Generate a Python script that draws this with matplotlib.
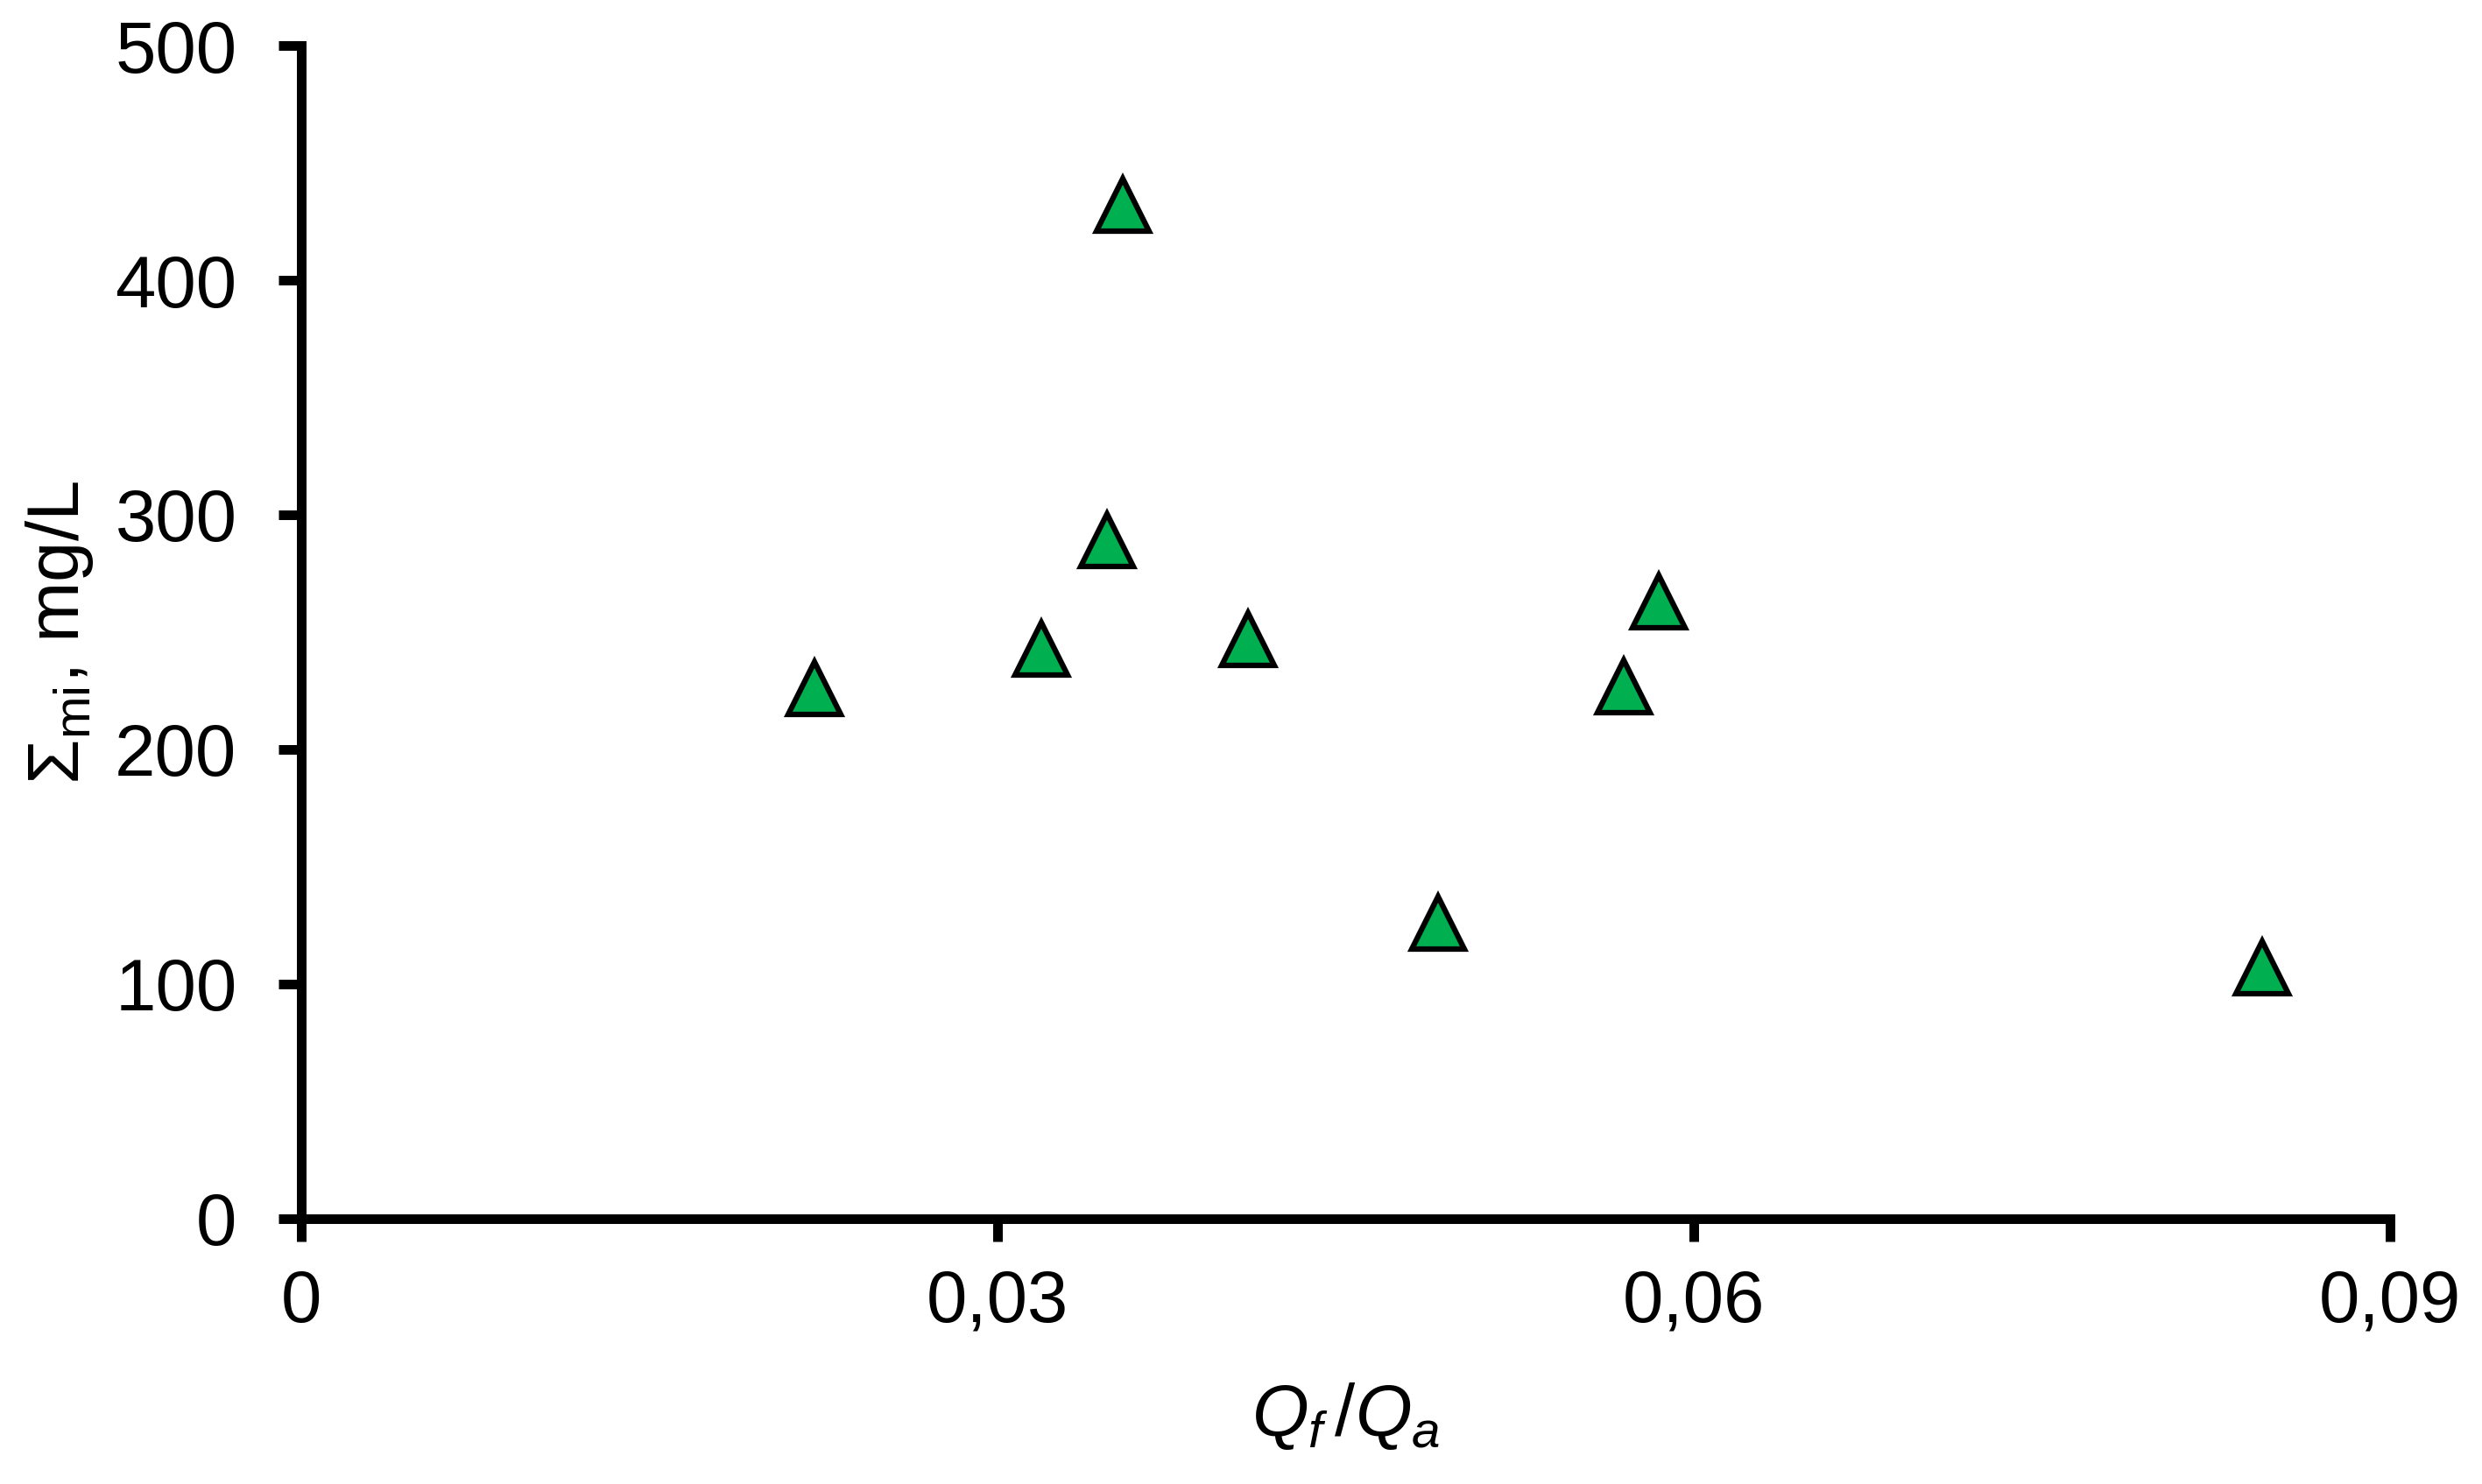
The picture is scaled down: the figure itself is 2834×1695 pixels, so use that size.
import matplotlib
matplotlib.use("Agg")
import matplotlib.pyplot as plt

# -----------------------------
# DATA
# -----------------------------
q_ratio = [0.0221, 0.0319, 0.0347, 0.0354, 0.0408, 0.0490, 0.0570, 0.0585, 0.0845]
sum_mi = [226, 243, 289, 432, 247, 126, 227, 263, 107]

x_ticks = [0, 0.03, 0.06, 0.09]
x_tick_labels = ["0", "0,03", "0,06", "0,09"]
y_ticks = [0, 100, 200, 300, 400, 500]

# -----------------------------
# STYLE
# -----------------------------
plt.rcParams["font.family"] = ["Liberation Sans", "DejaVu Sans"]
plt.rcParams["mathtext.fontset"] = "custom"
plt.rcParams["mathtext.rm"] = "Liberation Sans"
plt.rcParams["mathtext.it"] = "Liberation Sans:italic"

fig = plt.figure(figsize=(28.34, 16.95), dpi=100)
ax = fig.add_axes([0.1214, 0.1788, 0.8415, 0.7905])

ax.plot(q_ratio, sum_mi, linestyle="none", marker="^", markersize=43,
        markerfacecolor="#00B050", markeredgecolor="black", markeredgewidth=4.5)

ax.set_xlim(0, 0.09)
ax.set_ylim(0, 500)
ax.set_xticks(x_ticks)
ax.set_xticklabels(x_tick_labels)
ax.set_yticks(y_ticks)

for side in ["top", "right"]:
    ax.spines[side].set_visible(False)
for side in ["left", "bottom"]:
    ax.spines[side].set_linewidth(7.9)

ax.tick_params(axis="both", direction="out", length=19, width=7.9,
               labelsize=60, colors="black")
ax.tick_params(axis="x", pad=22)
ax.tick_params(axis="y", pad=34)

ax.set_xlabel(r"$Q_f\,/Q_a$", fontsize=60, va="baseline")
ax.xaxis.set_label_coords(0.5, -0.185)
ax.set_ylabel(r"$\mathrm{\Sigma_{mi}}$, mg/L", fontsize=60, va="center")
ax.yaxis.set_label_coords(-0.1157, 0.5)

fig.savefig("out.png", dpi=100, facecolor="white")
